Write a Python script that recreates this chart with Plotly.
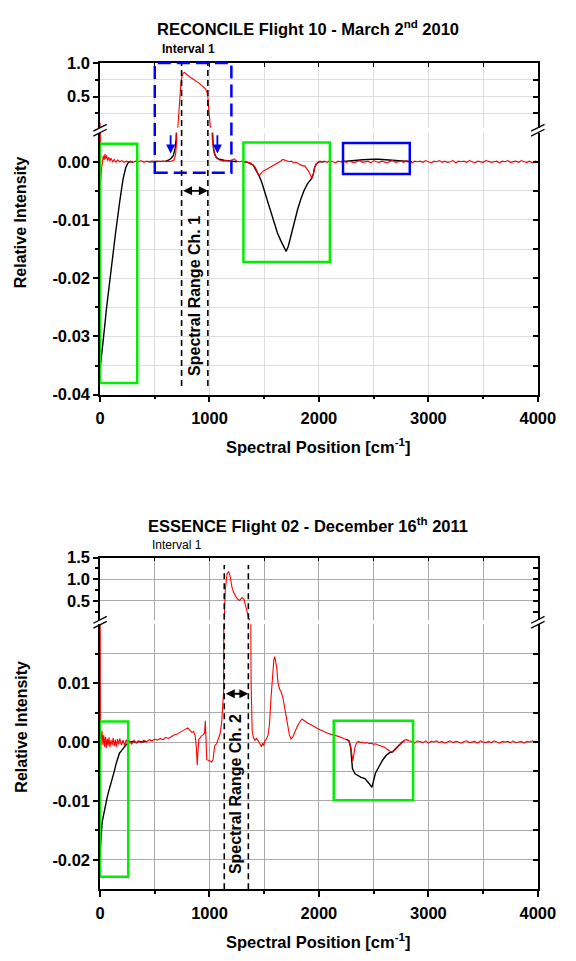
import plotly.graph_objects as go

W, H = 576, 961

# ---------------- DATA (relative intensity in units of 1e-3) ----------------
p1_red_x = [0, 3, 8, 15, 22, 30, 38, 45, 52, 60,
            70, 80, 90, 100, 115, 130, 145, 160, 180, 200,
            220, 240, 260, 280, 300, 325, 350, 375, 400, 425,
            450, 475, 500, 525, 550, 575, 600, 620, 640, 660,
            675, 690, 700, 710, 720, 730, 740, 750, 760, 770,
            780, 790, 800, 815, 830, 845, 860, 875, 890, 905,
            920, 935, 950, 965, 975, 985, 992, 1000, 1008, 1016,
            1025, 1035, 1045, 1060, 1080, 1100, 1125, 1150, 1175, 1200,
            1225, 1250, 1275, 1300, 1325, 1350, 1375, 1400, 1420, 1440,
            1455, 1470, 1490, 1510, 1530, 1550, 1570, 1590, 1610, 1630,
            1650, 1670, 1690, 1710, 1730, 1750, 1770, 1790, 1810, 1830,
            1850, 1870, 1890, 1905, 1920, 1935, 1950, 1960, 1975, 1990,
            2010, 2030,
            2050, 2075, 2100, 2125, 2150, 2175, 2200, 2225, 2250, 2275,
            2300, 2325, 2350, 2375, 2400, 2425, 2450, 2475, 2500, 2525,
            2550, 2575, 2600, 2625, 2650, 2675, 2700, 2725, 2750, 2775,
            2800, 2825, 2850, 2875, 2900, 2925, 2950, 2975, 3000, 3025,
            3050, 3075, 3100, 3125, 3150, 3175, 3200, 3225, 3250, 3275,
            3300, 3325, 3350, 3375, 3400, 3425, 3450, 3475, 3500, 3525,
            3550, 3575, 3600, 3625, 3650, 3675, 3700, 3725, 3750, 3775,
            3800, 3825, 3850, 3875, 3900, 3925, 3950, 3975, 4000]
p1_red_y = [110, -4.0, -2.5, -1.0, 0.6, 1.0, 0.3, 1.3, 0.5, 1.1,
            0.2, 0.8, 0.1, 0.6, 0.0, 0.4, -0.1, 0.3, 0.0, 0.2,
            -0.1, 0.1, 0.0, 0.1, -0.1, 0.1, 0.0, 0.2, -0.1, 0.1,
            0.0, 0.1, -0.1, 0.1, 0.0, 0.1, 0.0, 0.1, 0.0, 0.2,
            0.3, 1.2, 3.5, 30, 250, 520, 720, 810, 850, 860,
            845, 835, 830, 800, 780, 765, 745, 730, 715, 700,
            680, 660, 640, 610, 570, 500, 330, 150, 50, 15,
            4.0, 2.2, 1.3, 0.7, 0.4, 0.2, 0.1, 0.2, 0.1, 0.3,
            0.5, 0.1, 0.0, 0.1, 0.0, -0.1, -0.2, -0.6, -1.0, -1.9,
            -2.4, -2.0, -1.6, -1.4, -1.2, -1.0, -0.8, -0.5, -0.3, -0.1,
            0.1, 0.4, 0.3, 0.2, 0.0, 0.1, -0.2, -0.1, -0.3, -0.5,
            -0.7, -0.7, -1.2, -1.6, -2.2, -2.8, -2.0, -1.0, -0.4, -0.1,
            0.1, 0.0,
            0.1, -0.1, 0.2, 0.0, -0.2, 0.1, 0.0, 0.2, -0.1, 0.1,
            0.0, -0.2, 0.1, 0.2, -0.1, 0.0, 0.1, -0.2, 0.2, 0.0,
            -0.1, 0.1, 0.0, -0.2, 0.1, 0.2, -0.1, 0.0, 0.1, -0.1,
            0.2, 0.0, -0.2, 0.1, 0.0, 0.1, -0.1, 0.2, 0.0, -0.2,
            0.1, 0.0, 0.2, -0.1, 0.1, -0.1, 0.0, 0.2, -0.2, 0.1,
            0.0, 0.1, -0.1, 0.2, 0.0, -0.2, 0.1, 0.0, -0.1, 0.2,
            0.1, -0.1, 0.0, 0.1, -0.2, 0.1, 0.0, 0.2, -0.1, 0.0,
            0.1, -0.1, 0.2, 0.0, -0.1, 0.1, -0.2, 0.1, 0.0]

p1_black_x = [0, 10, 30, 60, 100, 140, 180, 210, 235, 255, 275, 300, None,
              440, 500, 550, 600, 630, 650, 670, 685, 695, 703, None,
              1025, 1035, 1045, 1060, 1080, 1100, 1130, 1160, 1200, 1250, None,
              1300, 1350, 1400, 1440, 1455, 1475, 1500, 1530, 1560, 1590,
              1620, 1650, 1675, 1700, 1720, 1745, 1775, 1805, 1835, 1865,
              1895, 1920, 1935, 1950, 1960, 1975, 2000, 2050, None,
              2200, 2250, 2300, 2350, 2400, 2450, 2500, 2550, 2600, 2650,
              2700, 2750, 2800, 2850]
p1_black_y = [-35.5, -34.0, -30.5, -25.0, -18.5, -12.5, -6.8, -3.0, -1.0, -0.2, 0.0, 0.0, None,
              0.0, 0.0, 0.05, 0.1, 0.3, 0.6, 1.1, 2.2, 3.8, 8.0, None,
              6.0, 2.5, 1.5, 0.8, 0.5, 0.35, 0.25, 0.2, 0.1, 0.0, None,
              0.0, -0.1, -0.6, -1.9, -2.5, -3.4, -4.9, -6.8, -8.8, -10.6,
              -12.2, -13.5, -14.6, -15.4, -14.5, -12.6, -10.4, -8.2, -6.4, -4.9,
              -3.8, -3.1, -2.8, -2.0, -1.0, -0.4, 0.0, 0.0, None,
              0.0, 0.05, 0.15, 0.25, 0.35, 0.42, 0.45, 0.42, 0.35, 0.25,
              0.15, 0.07, 0.02, 0.0]

p2_red_x = [0, 4, 10, 18, 26, 34, 42, 50, 58, 66,
            74, 82, 90, 100, 110, 120, 130, 140, 150, 160,
            170, 180, 195, 210, 225, 240, 255, 270, 290, 310,
            330, 350, 375, 400, 425, 450, 475, 500, 525, 550,
            575, 600, 625, 650, 675, 700, 725, 750, 775, 800,
            820, 840, 855, 870, 880, 888, 895, 903, 915, 925,
            940, 955, 962, 968, 975, 990, 1005, 1020, 1032, 1040,
            1048, 1065, 1080, 1097, 1112, 1122, 1129, 1135, 1145, 1160,
            1175, 1190, 1205, 1220, 1240, 1260, 1275, 1290, 1300, 1315,
            1330, 1345, 1360, 1372, 1380, 1390, 1400, 1415, 1430, 1445,
            1460, 1475, 1485, 1495, 1505, 1520, 1535, 1548, 1562, 1574,
            1588, 1597, 1605, 1615, 1625, 1640, 1655, 1670, 1685, 1700,
            1715, 1730, 1745, 1760, 1775, 1790, 1806, 1825, 1845, 1860,
            1880, 1900, 1920, 1945, 1970, 1995, 2020, 2050, 2080, 2110,
            2140, 2170, 2200, 2230, 2255, 2275, 2290, 2300, 2310, 2320,
            2330, 2345, 2360, 2380, 2400, 2420, 2440, 2460, 2480, 2500,
            2520, 2540, 2560, 2580, 2600, 2620, 2640, 2660, 2680, 2700,
            2720, 2740, 2760, 2780, 2800, 2820,
            2850, 2875, 2900, 2925, 2950, 2975, 3000, 3025, 3050, 3075,
            3100, 3125, 3150, 3175, 3200, 3225, 3250, 3275, 3300, 3325,
            3350, 3375, 3400, 3425, 3450, 3475, 3500, 3525, 3550, 3575,
            3600, 3625, 3650, 3675, 3700, 3725, 3750, 3775, 3800, 3825,
            3850, 3875, 3900, 3925, 3950, 3975, 4000]
p2_red_y = [40, -2.2, 0.5, 1.9, -0.5, 1.2, -0.8, 0.9, -1.0, 0.6,
            -0.6, 0.8, -0.9, 0.3, -0.5, 0.7, -0.7, 0.4, -0.8, 0.5,
            -0.4, 0.6, -0.5, 0.3, -0.6, 0.4, -0.3, 0.2, -0.4, 0.3,
            -0.2, 0.2, -0.1, 0.3, 0.0, 0.4, 0.2, 0.5, 0.3, 0.6,
            0.4, 0.8, 0.6, 0.9, 1.2, 1.3, 1.6, 1.9, 2.1, 2.4,
            2.0, 1.6, 1.8, 1.0, -1.0, -3.9, -1.5, 0.5, 0.7, 1.0,
            1.2, 1.5, 3.6, 0.0, -3.0, -3.1, -3.3, -3.4, -3.0, -2.0,
            -0.6, -0.3, 0.4, 1.4, 3.5, 6.0, 8.6, 60, 780, 1120,
            1180, 1050, 820, 700, 600, 540, 510, 560, 580, 540,
            380, 200, 90, 30, 10, 2.0, 0.8, 0.3, 0.6, 0.2,
            -0.4, -0.8, -0.2, -0.6, 0.2, 0.5, 1.2, 3.0, 7.5, 11.5,
            14.0, 14.5, 13.8, 12.5, 10.2, 9.0, 8.5, 7.6, 6.0, 4.5,
            2.6, 1.2, 0.5, 0.8, 1.5, 2.2, 2.8, 3.4, 3.9, 3.7,
            3.4, 3.2, 3.0, 2.7, 2.5, 2.2, 2.0, 1.7, 1.5, 1.3,
            1.2, 1.0, 0.8, 0.6, 0.4, 0.2, -0.8, -2.0, -3.2, -2.0,
            -0.8, -0.1, 0.1, -0.1, 0.0, -0.2, -0.1, -0.3, -0.2, -0.4,
            -0.3, -0.5, -0.6, -0.7, -0.9, -1.2, -1.5, -1.7, -1.6, -1.2,
            -0.8, -0.4, 0.0, 0.3, 0.4, 0.2,
            0.1, -0.2, 0.2, 0.0, -0.1, 0.2, -0.2, 0.1, 0.0, 0.2,
            -0.1, 0.1, -0.2, 0.0, 0.2, -0.1, 0.1, 0.0, -0.2, 0.1,
            0.2, -0.1, 0.0, 0.1, -0.2, 0.2, 0.0, -0.1, 0.1, -0.1,
            0.2, 0.0, -0.2, 0.1, 0.0, 0.1, -0.1, 0.2, -0.1, 0.0,
            0.1, -0.2, 0.1, 0.0, 0.2, -0.1, 0.0]

p2_black_x = [0, 5, 12, 20, 30, 42, 55, 65, 80, 97,
              113, 130, 145, 160, 177, 195, 210, 225, 242, 260,
              275, 300, 330, 360, 390, 420, None,
              2250, 2275, 2290, 2306, 2330, 2355, 2385, 2420, 2440, 2460,
              2484, 2495, 2505, 2516, 2548, 2581, 2613, 2645, 2670, 2700,
              2720, 2740, 2760, 2780]
p2_black_y = [-19.0, -16.0, -15.5, -13.5, -12.5, -11.5, -10.3, -9.4, -8.3, -7.2,
              -6.4, -5.0, -3.8, -2.8, -1.9, -1.5, -1.1, -0.8, -0.4, -0.2,
              0.0, 0.1, -0.1, 0.1, 0.0, 0.1, None,
              0.5, 0.2, -1.0, -4.5, -5.4, -5.7, -6.0, -6.2, -6.6, -7.1,
              -7.7, -7.0, -6.0, -5.3, -4.2, -3.1, -2.3, -1.8, -1.7, -1.2,
              -0.8, -0.4, 0.0, 0.2]

x_tick_vals = [0, 1000, 2000, 3000, 4000]
x_tick_text = ["0", "1000", "2000", "3000", "4000"]
p1_lo_ticks = [0.0, -0.01, -0.02, -0.03, -0.04]
p1_lo_text = ["0.00", "-0.01", "-0.02", "-0.03", "-0.04"]
p1_up_ticks = [0.5, 1.0]
p1_up_text = ["0.5", "1.0"]
p2_lo_ticks = [0.01, 0.0, -0.01, -0.02]
p2_lo_text = ["0.01", "0.00", "-0.01", "-0.02"]
p2_up_ticks = [0.5, 1.0, 1.5]
p2_up_text = ["0.5", "1.0", "1.5"]

for a, b in [(p1_red_x, p1_red_y), (p1_black_x, p1_black_y),
             (p2_red_x, p2_red_y), (p2_black_x, p2_black_y)]:
    assert len(a) == len(b), (len(a), len(b))

MILLI = 1e-3
def milli(v):
    return [None if a is None else a * MILLI for a in v]

# ---------------- LAYOUT GEOMETRY ----------------
def px(p):
    return p / W

def py(p):
    return 1 - p / H

XD = [px(99), px(555)]
P1_UP_D, P1_UP_R = [py(121), py(55)], [0.035, 1.0]
P1_LO_D, P1_LO_R = [py(393), py(126)], [-0.04, 0.005]
P2_UP_D, P2_UP_R = [py(623), py(559)], [0.055, 1.5]
P2_LO_D, P2_LO_R = [py(897), py(627)], [-0.025, 0.02]

def to_paper(v, dom, rng):
    return dom[0] + (v - rng[0]) / (rng[1] - rng[0]) * (dom[1] - dom[0])

FONT = "Liberation Sans, Arial, sans-serif"
def tf(size=16, bold=True):
    d = dict(family=FONT, size=size, color="black")
    if bold:
        d["weight"] = "bold"
    return d

TICK_SIZE = 16.5
fig = go.Figure()
RED = "#ff0000"
# panel 1
fig.add_trace(go.Scatter(x=p1_black_x, y=milli(p1_black_y), xaxis="x", yaxis="y",
                         mode="lines", line=dict(color="black", width=1.4)))
fig.add_trace(go.Scatter(x=p1_red_x, y=milli(p1_red_y), xaxis="x", yaxis="y",
                         mode="lines", line=dict(color=RED, width=1.1)))
fig.add_trace(go.Scatter(x=p1_red_x, y=milli(p1_red_y), xaxis="x2", yaxis="y2",
                         mode="lines", line=dict(color=RED, width=1.1)))
# panel 2
fig.add_trace(go.Scatter(x=p2_black_x, y=milli(p2_black_y), xaxis="x3", yaxis="y3",
                         mode="lines", line=dict(color="black", width=1.4)))
fig.add_trace(go.Scatter(x=p2_red_x, y=milli(p2_red_y), xaxis="x3", yaxis="y3",
                         mode="lines", line=dict(color=RED, width=1.1)))
fig.add_trace(go.Scatter(x=p2_red_x, y=milli(p2_red_y), xaxis="x4", yaxis="y4",
                         mode="lines", line=dict(color=RED, width=1.1)))
# empty traces so the right-hand (inward tick) axes are drawn
for xa, ya in [("x", "y5"), ("x2", "y6"), ("x3", "y7"), ("x4", "y8")]:
    fig.add_trace(go.Scatter(x=[], y=[], xaxis=xa, yaxis=ya, mode="lines",
                             hoverinfo="skip"))

def x_lower(anchor, gridc):
    return dict(domain=XD, anchor=anchor, range=[0, 4000], tickmode="array",
                tickvals=x_tick_vals, ticktext=x_tick_text, ticks="outside",
                ticklen=6, tickwidth=1.5, tickcolor="black", showline=True,
                linewidth=1.5, linecolor="black", mirror=False, showgrid=True,
                gridcolor=gridc, gridwidth=1, zeroline=False, tickfont=tf(TICK_SIZE),
                ticklabelstandoff=2,
                minor=dict(tickmode="array", tickvals=[500, 1500, 2500, 3500],
                           ticks="outside", ticklen=3, tickcolor="black",
                           showgrid=True, gridcolor=gridc, gridwidth=1))

def x_upper(anchor, gridc):
    return dict(domain=XD, anchor=anchor, range=[0, 4000], side="top",
                tickmode="array", tickvals=[0, 500, 1000, 1500, 2000, 2500, 3000, 3500, 4000],
                ticks="inside", ticklen=4, tickcolor="black", showticklabels=False,
                showline=True, linewidth=1.5, linecolor="black", mirror=False,
                showgrid=True, gridcolor=gridc, gridwidth=1, zeroline=False)

def y_ax(anchor, dom, rng, tv, tt, minor_vals, gridc, minor_grid=True):
    return dict(domain=dom, anchor=anchor, range=rng, tickmode="array",
                tickvals=tv, ticktext=tt, ticks="outside", ticklen=5, tickwidth=1.5,
                tickcolor="black", showline=True, linewidth=1.5, linecolor="black",
                mirror=True, showgrid=True, gridcolor=gridc, gridwidth=1,
                zeroline=False, tickfont=tf(TICK_SIZE),
                minor=dict(tickmode="array", tickvals=minor_vals, ticks="outside",
                           ticklen=3, tickcolor="black", showgrid=minor_grid,
                           gridcolor=gridc, gridwidth=1))

def y_right(over, anchor, rng, vals):
    return dict(overlaying=over, anchor=anchor, side="right", range=rng,
                tickmode="array", tickvals=vals, ticks="inside", ticklen=5,
                tickwidth=1.5, tickcolor="black", showticklabels=False,
                showline=False, showgrid=False, zeroline=False)

G1 = "#dddddd"
G2 = "#aaaaaa"
fig.update_layout(
    width=W, height=H, margin=dict(l=0, r=0, t=0, b=0, pad=0),
    paper_bgcolor="white", plot_bgcolor="white", showlegend=False,
    xaxis=x_lower("y", G1),
    xaxis2=x_upper("y2", G1),
    xaxis3=x_lower("y3", G2),
    xaxis4=x_upper("y4", G2),
    yaxis=y_ax("x", P1_LO_D, P1_LO_R, p1_lo_ticks, p1_lo_text,
               [-0.005, -0.015, -0.025, -0.035], G1),
    yaxis2=y_ax("x2", P1_UP_D, P1_UP_R, p1_up_ticks, p1_up_text, [0.25, 0.75], G1),
    yaxis3=y_ax("x3", P2_LO_D, P2_LO_R, p2_lo_ticks, p2_lo_text,
                [0.015, 0.005, -0.005, -0.015], G2),
    yaxis4=y_ax("x4", P2_UP_D, P2_UP_R, p2_up_ticks, p2_up_text, [0.25, 0.75, 1.25], G2,
                minor_grid=False),
    yaxis5=y_right("y", "x", P1_LO_R, p1_lo_ticks + [-0.005, -0.015, -0.025, -0.035]),
    yaxis6=y_right("y2", "x2", P1_UP_R, p1_up_ticks + [0.25, 0.75]),
    yaxis7=y_right("y3", "x3", P2_LO_R, p2_lo_ticks + [0.015, 0.005, -0.005, -0.015]),
    yaxis8=y_right("y4", "x4", P2_UP_R, p2_up_ticks + [0.25, 0.75, 1.25]),
)

shapes = []
GREEN = "#00ee00"
BLUE = "#0000ff"
for (x0, x1, y0, y1, xr, yr, c) in [
        (0, 340, -0.038, 0.0031, "x", "y", GREEN),
        (1310, 2100, -0.0172, 0.0033, "x", "y", GREEN),
        (2220, 2830, -0.0021, 0.0032, "x", "y", BLUE),
        (0, 258, -0.0229, 0.0035, "x3", "y3", GREEN),
        (2135, 2860, -0.0099, 0.0036, "x3", "y3", GREEN)]:
    shapes.append(dict(type="rect", xref=xr, yref=yr, x0=x0, x1=x1, y0=y0, y1=y1,
                       line=dict(color=c, width=2.5)))
# blue dashed interval box (spans the axis break)
shapes.append(dict(type="rect", xref="x", yref="paper", x0=500, x1=1200,
                   y0=to_paper(-0.0019, P1_LO_D, P1_LO_R),
                   y1=to_paper(1.0, P1_UP_D, P1_UP_R),
                   line=dict(color=BLUE, width=2.5, dash="13px,6px")))
# black dashed spectral range lines
for xv in (745, 985):
    shapes.append(dict(type="line", xref="x", yref="paper", x0=xv, x1=xv,
                       y0=to_paper(-0.0385, P1_LO_D, P1_LO_R),
                       y1=to_paper(1.0, P1_UP_D, P1_UP_R),
                       line=dict(color="black", width=1.6, dash="6px,4px")))
for xv in (1135, 1355):
    shapes.append(dict(type="line", xref="x3", yref="paper", x0=xv, x1=xv,
                       y0=to_paper(-0.025, P2_LO_D, P2_LO_R),
                       y1=to_paper(1.33, P2_UP_D, P2_UP_R),
                       line=dict(color="black", width=1.6, dash="6px,4px")))
# axis break marks
for yb in (123.5, 625):
    for xb in (99, 555):
        for dy in (-2.5, 2.5):
            shapes.append(dict(type="line", xref="paper", yref="paper",
                               x0=px(xb - 7), y0=py(yb + dy + 3.5),
                               x1=px(xb + 7), y1=py(yb + dy - 3.5),
                               line=dict(color="black", width=1.3)))
fig.update_layout(shapes=shapes)

ann = []
def text(t, x, y, size, bold=True, xanchor="center", angle=0, xref="paper", yref="paper"):
    ann.append(dict(text=t, x=x, y=y, xref=xref, yref=yref, xanchor=xanchor,
                    yanchor="middle", showarrow=False, textangle=angle,
                    font=tf(size, bold)))

text("<b>RECONCILE Flight 10 - March 2<sup>nd</sup> 2010</b>", px(315.5), py(19), 16.5)
text("<b>Interval 1</b>", px(161), py(41), 12, xanchor="left")
text("<b>ESSENCE Flight 02 - December 16<sup>th</sup> 2011</b>", px(315.5), py(526), 16.5)
text("Interval 1", px(151), py(546), 12, bold=False, xanchor="left")
text("<b>Relative Intensity</b>", px(17), py(217), 16, angle=-90)
text("<b>Relative Intensity</b>", px(17), py(731), 16, angle=-90)
text("<b>Spectral Position [cm<sup>-1</sup>]</b>", px(327), py(445), 16.5)
text("<b>Spectral Position [cm<sup>-1</sup>]</b>", px(327), py(950), 16.5)
text("<b>Spectral Range Ch. 1</b>", 865, -0.0231, 16, angle=-90, xref="x", yref="y")
text("<b>Spectral Range Ch. 2</b>", 1245, -0.0088, 16, angle=-90, xref="x3", yref="y3")

def arrow(x0, x1, y0, y1, xr, yr, color, both):
    d = dict(text="", x=x1, y=y1, ax=x0, ay=y0, xref=xr, yref=yr, axref=xr, ayref=yr,
             showarrow=True, arrowhead=2, arrowsize=1, arrowwidth=1.8,
             arrowcolor=color, standoff=0, startstandoff=0)
    if both:
        d.update(arrowside="end+start", startarrowhead=2, startarrowsize=1)
    ann.append(d)

arrow(745, 985, -0.005, -0.005, "x", "y", "black", True)
arrow(1135, 1355, 0.0082, 0.0082, "x3", "y3", "black", True)
arrow(645, 645, 0.0048, 0.0014, "x", "y", BLUE, False)
arrow(1072, 1072, 0.0048, 0.0014, "x", "y", BLUE, False)
fig.update_layout(annotations=ann)

fig.write_html("out.html")
